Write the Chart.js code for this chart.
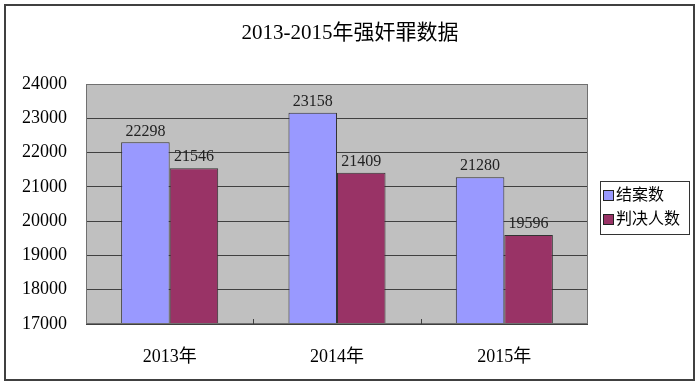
<!DOCTYPE html>
<html>
<head>
<meta charset="utf-8">
<script src="https://cdn.jsdelivr.net/npm/chart.js@4/dist/chart.umd.min.js"></script>
<style>
  html, body { margin: 0; padding: 0; background: #fff; }
  #wrap { width: 700px; height: 386px; }
</style>
</head>
<body>
<div id="wrap"><canvas id="rapeChart"></canvas></div>
<script>
// data
const chartTitle = '2013-2015年强奸罪数据';
const years = ['2013年', '2014年', '2015年'];
const closedCases = [22298, 23158, 21280];
const convicted = [21546, 21409, 19596];
const seriesNames = ['结案数', '判决人数'];
const yTicks = [17000, 18000, 19000, 20000, 21000, 22000, 23000, 24000];

const FONT = '"Liberation Serif", "Noto Sans CJK SC", serif';

// background, frame, title, labels and legend
const decor = {
    id: 'decor',
    beforeDraw(chart) {
        const { ctx, chartArea: a } = chart;
        ctx.save();
        ctx.fillStyle = '#fff';
        ctx.fillRect(0, 0, chart.width, chart.height);
        // outer frame
        ctx.strokeStyle = '#404040';
        ctx.lineWidth = 2;
        ctx.strokeRect(5, 5, 689, 375);
        // plot area
        ctx.fillStyle = '#c0c0c0';
        ctx.fillRect(a.left, a.top, a.right - a.left, a.bottom - a.top);
        // title, centred on the whole frame
        ctx.fillStyle = '#000';
        ctx.font = '21px ' + FONT;
        ctx.textAlign = 'center';
        ctx.textBaseline = 'middle';
        ctx.fillText(chartTitle, 350, 33);
        ctx.restore();
    },
    afterDraw(chart) {
        const { ctx, chartArea: a } = chart;
        const x = chart.scales.x;
        ctx.save();
        // plot border
        ctx.strokeStyle = '#707070';
        ctx.lineWidth = 1;
        ctx.strokeRect(a.left + 0.5, a.top + 0.5, a.right - a.left - 1, a.bottom - a.top - 1);
        // category ticks
        ctx.strokeStyle = '#404040';
        const half = (x.getPixelForValue(1) - x.getPixelForValue(0)) / 2;
        for (let i = 0; i < years.length - 1; i++) {
            const px = Math.round(x.getPixelForValue(i) + half) + 0.5;
            ctx.beginPath();
            ctx.moveTo(px, a.bottom);
            ctx.lineTo(px, a.bottom - 5);
            ctx.stroke();
        }
        // value labels
        ctx.font = '16px ' + FONT;
        ctx.fillStyle = '#222';
        ctx.textAlign = 'center';
        ctx.textBaseline = 'bottom';
        chart.data.datasets.forEach((ds, di) => {
            chart.getDatasetMeta(di).data.forEach((bar, i) => {
                ctx.fillText(ds.data[i], bar.x, bar.y - 3);
            });
        });
        // legend
        ctx.strokeStyle = '#333';
        ctx.fillStyle = '#fff';
        ctx.fillRect(600.5, 181.5, 89, 53);
        ctx.strokeRect(600.5, 181.5, 89, 53);
        ctx.textAlign = 'left';
        ctx.textBaseline = 'middle';
        chart.data.datasets.forEach((ds, di) => {
            const cy = 196 + di * 24;
            ctx.fillStyle = ds.backgroundColor;
            ctx.fillRect(603.5, cy - 5.5, 10, 10);
            ctx.strokeStyle = '#222';
            ctx.strokeRect(603.5, cy - 5.5, 10, 10);
            ctx.fillStyle = '#000';
            ctx.font = '16px ' + FONT;
            ctx.fillText(ds.label, 616, cy);
        });
        ctx.restore();
    }
};

new Chart(document.getElementById('rapeChart'), {
    type: 'bar',
    data: {
        labels: years,
        datasets: [
            {
                label: seriesNames[0],
                data: closedCases,
                backgroundColor: '#9999ff',
                borderColor: '#333',
                borderWidth: 1,
                categoryPercentage: 0.58,
                barPercentage: 1.0
            },
            {
                label: seriesNames[1],
                data: convicted,
                backgroundColor: '#993366',
                borderColor: '#333',
                borderWidth: 1,
                categoryPercentage: 0.58,
                barPercentage: 1.0
            }
        ]
    },
    options: {
        responsive: true,
        maintainAspectRatio: false,
        animation: false,
        layout: { padding: { left: 0, right: 112, top: 84, bottom: 0 } },
        scales: {
            x: {
                grid: { display: false },
                border: { display: false },
                ticks: { color: '#000', font: { family: FONT, size: 18 }, padding: 14 },
                afterFit(scale) { scale.height = 62; }
            },
            y: {
                min: 17000,
                max: 24000,
                afterBuildTicks(scale) { scale.ticks = yTicks.map(v => ({ value: v })); },
                grid: { color: '#404040', drawTicks: false },
                border: { display: false },
                ticks: {
                    color: '#000',
                    font: { family: FONT, size: 18 },
                    padding: 19,
                    callback: v => String(v)
                },
                afterFit(scale) { scale.width = 86; }
            }
        },
        plugins: {
            legend: { display: false },
            tooltip: { enabled: false },
            title: { display: false }
        }
    },
    plugins: [decor]
});
</script>
</body>
</html>
